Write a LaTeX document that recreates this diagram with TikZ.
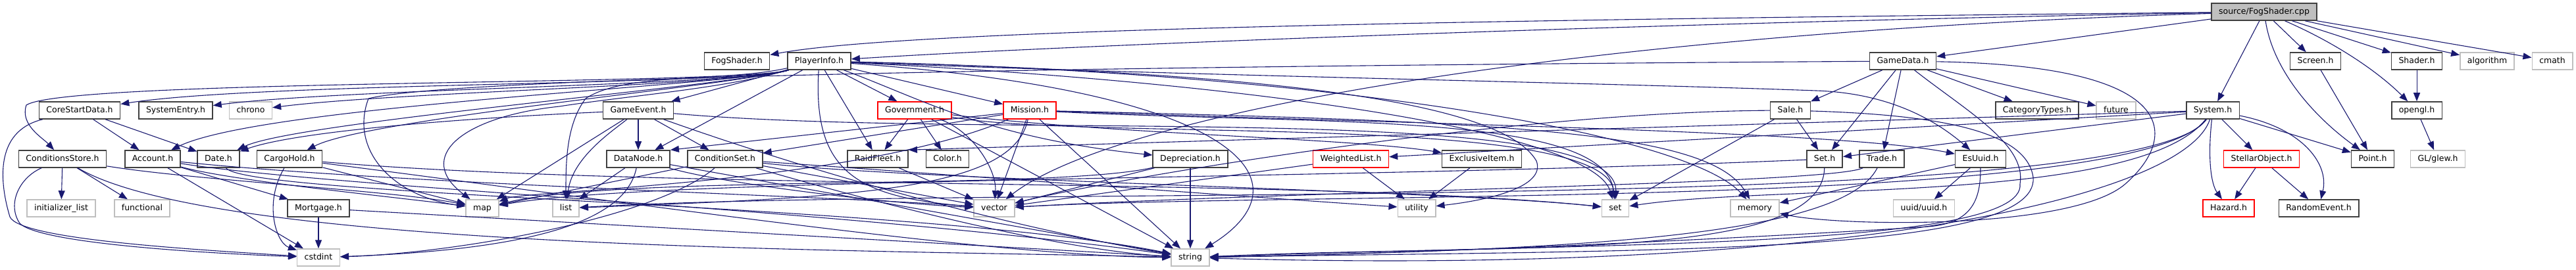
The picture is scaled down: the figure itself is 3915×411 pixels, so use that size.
\documentclass[tikz,border=0pt]{standalone}
\usepackage{fontspec}
\setmainfont{DejaVu Sans}
\usetikzlibrary{arrows.meta}
\definecolor{edgeblue}{HTML}{191970}
\definecolor{sysgray}{HTML}{BFBFBF}
\definecolor{rootedge}{HTML}{404040}

\begin{document}
\begin{tikzpicture}[x=1pt, y=-1pt,
    every node/.style={font=\fontsize{12.5}{15}\selectfont, fill=white, minimum height=26pt,
      inner xsep=11pt, inner ysep=0pt, text height=9.5pt, text depth=2.5pt, line width=1.5pt},
    hdr/.style={draw=rootedge},
    trunc/.style={draw=red},
    sys/.style={draw=sysgray},
    mainfile/.style={draw=rootedge, fill=sysgray},
    dep/.style={draw=edgeblue, line width=1.1pt, -{Triangle[length=13pt,width=10pt]}}]
    \useasboundingbox (0,0) rectangle (3915,411);
    % the file and the headers, row by row
    \node[mainfile] (sfog) at (3441,18) {source/FogShader.cpp};
    \node[hdr] (fogshaderh) at (1120,93) {FogShader.h};
    \node[hdr] (playerinfoh) at (1245,93) {PlayerInfo.h};
    \node[hdr] (gamedatah) at (2892,93) {GameData.h};
    \node[hdr] (screenh) at (3519,93) {Screen.h};
    \node[hdr] (shaderh) at (3673,93) {Shader.h};
    \node[sys] (algorithm) at (3780,93) {algorithm};
    \node[sys] (cmath) at (3879,93) {cmath};
    \node[hdr] (corestartdatah) at (121,168) {CoreStartData.h};
    \node[hdr] (systementryh) at (267,168) {SystemEntry.h};
    \node[sys] (chrono) at (381,168) {chrono};
    \node[hdr] (gameeventh) at (970,168) {GameEvent.h};
    \node[trunc] (governmenth) at (1390,168) {Government.h};
    \node[trunc] (missionh) at (1565,168) {Mission.h};
    \node[hdr] (saleh) at (2721,168) {Sale.h};
    \node[hdr] (categorytypesh) at (3096,168) {CategoryTypes.h};
    \node[sys] (future) at (3216,168) {future};
    \node[hdr] (systemh) at (3363,168) {System.h};
    \node[hdr] (openglh) at (3673,168) {opengl.h};
    \node[hdr] (conditionsstoreh) at (95,242) {ConditionsStore.h};
    \node[hdr] (accounth) at (232,242) {Account.h};
    \node[hdr] (dateh) at (332,242) {Date.h};
    \node[hdr] (cargoholdh) at (440,242) {CargoHold.h};
    \node[hdr] (datanodeh) at (970,242) {DataNode.h};
    \node[hdr] (conditionseth) at (1102,242) {ConditionSet.h};
    \node[hdr] (raidfleeth) at (1334,242) {RaidFleet.h};
    \node[hdr] (colorh) at (1440,242) {Color.h};
    \node[hdr] (depreciationh) at (1809,242) {Depreciation.h};
    \node[trunc] (weightedlisth) at (2053,242) {WeightedList.h};
    \node[hdr] (exclusiveitemh) at (2252,242) {ExclusiveItem.h};
    \node[hdr] (seth) at (2773,242) {Set.h};
    \node[hdr] (tradeh) at (2860,242) {Trade.h};
    \node[hdr] (esuuidh) at (3010,242) {EsUuid.h};
    \node[trunc] (stellarobjecth) at (3437,242) {StellarObject.h};
    \node[hdr] (pointh) at (3606,242) {Point.h};
    \node[sys] (glewh) at (3705,242) {GL/glew.h};
    \node[sys] (initializerlist) at (93,317) {initializer\_list};
    \node[sys] (functional) at (216,317) {functional};
    \node[hdr] (mortgageh) at (484,317) {Mortgage.h};
    \node[sys] (map) at (733,317) {map};
    \node[sys] (list) at (860,317) {list};
    \node[sys] (vector) at (1511,317) {vector};
    \node[sys] (utility) at (2153,317) {utility};
    \node[sys] (set) at (2455,317) {set};
    \node[sys] (memory) at (2667,317) {memory};
    \node[sys] (uuidh) at (2924,317) {uuid/uuid.h};
    \node[trunc] (hazardh) at (3387,317) {Hazard.h};
    \node[hdr] (randomeventh) at (3524,317) {RandomEvent.h};
    \node[sys] (cstdint) at (484,392) {cstdint};
    \node[sys] (string) at (1809,392) {string};

    % includes of the .cpp
    \draw[dep] (sfog) .. controls (2500,28) and (1400,40) .. (fogshaderh);
    \draw[dep] (sfog) .. controls (2500,35) and (1600,70) .. (playerinfoh);
    \draw[dep] (sfog) -- (gamedatah);
    \draw[dep] (sfog) .. controls (2400,50) and (1700,170) .. (vector);
    \draw[dep] (sfog) -- (systemh);
    \draw[dep] (sfog) .. controls (3455,110) and (3520,180) .. (pointh);
    \draw[dep] (sfog) -- (screenh);
    \draw[dep] (sfog) .. controls (3560,70) and (3620,115) .. (openglh);
    \draw[dep] (sfog) -- (shaderh);
    \draw[dep] (sfog) -- (algorithm);
    \draw[dep] (sfog) -- (cmath);

    % PlayerInfo.h
    \draw[dep] (playerinfoh) .. controls (1120,130) and (400,125) .. (corestartdatah);
    \draw[dep] (playerinfoh) .. controls (1120,130) and (520,135) .. (systementryh);
    \draw[dep] (playerinfoh) .. controls (1120,130) and (600,140) .. (chrono);
    \draw[dep] (playerinfoh) .. controls (1120,130) and (100,120) .. (40,160) .. controls (30,190) and (65,210) .. (conditionsstoreh);
    \draw[dep] (playerinfoh) .. controls (1120,130) and (400,160) .. (accounth);
    \draw[dep] (playerinfoh) .. controls (1120,130) and (450,185) .. (dateh);
    \draw[dep] (playerinfoh) .. controls (1120,130) and (560,180) .. (cargoholdh);
    \draw[dep] (playerinfoh) .. controls (1100,135) and (960,145) .. (850,162) .. controls (700,178) and (630,240) .. (map);
    \draw[dep] (playerinfoh) .. controls (1100,125) and (950,110) .. (890,150) .. controls (860,190) and (860,250) .. (list);
    \draw[dep] (playerinfoh) -- (gameeventh);
    \draw[dep] (playerinfoh) -- (datanodeh);
    \draw[dep] (playerinfoh) -- (governmenth);
    \draw[dep] (playerinfoh) -- (missionh);
    \draw[dep] (playerinfoh) -- (raidfleeth);
    \draw[dep] (playerinfoh) .. controls (1400,150) and (1500,210) .. (depreciationh);
    \draw[dep] (playerinfoh) .. controls (1800,115) and (2400,125) .. (2760,138) .. controls (2880,142) and (2950,190) .. (esuuidh);
    \draw[dep] (playerinfoh) .. controls (2000,110) and (2560,200) .. (memory);
    \draw[dep] (playerinfoh) .. controls (1900,125) and (2420,200) .. (set);
    \draw[dep] (playerinfoh) .. controls (1900,140) and (1990,280) .. (string);
    \draw[dep] (playerinfoh) .. controls (1900,110) and (2280,150) .. (2335,245) .. controls (2350,285) and (2260,305) .. (utility);
    \draw[dep] (playerinfoh) .. controls (1235,260) and (1300,300) .. (vector);

    % GameEvent.h, DataNode.h, ConditionSet.h
    \draw[dep] (gameeventh) .. controls (700,180) and (450,200) .. (dateh);
    \draw[dep] (gameeventh) -- (datanodeh);
    \draw[dep] (gameeventh) -- (conditionseth);
    \draw[dep] (gameeventh) -- (map);
    \draw[dep] (gameeventh) .. controls (930,200) and (870,240) .. (list);
    \draw[dep] (gameeventh) .. controls (1500,215) and (2460,150) .. (set);
    \draw[dep] (gameeventh) .. controls (1200,250) and (1500,340) .. (string);
    \draw[dep] (datanodeh) -- (list);
    \draw[dep] (datanodeh) .. controls (950,340) and (800,380) .. (cstdint);
    \draw[dep] (datanodeh) -- (string);
    \draw[dep] (datanodeh) .. controls (1100,280) and (1350,310) .. (vector);
    \draw[dep] (conditionseth) -- (map);
    \draw[dep] (conditionseth) .. controls (1000,330) and (700,385) .. (cstdint);
    \draw[dep] (conditionseth) .. controls (1400,275) and (2200,290) .. (set);
    \draw[dep] (conditionseth) .. controls (1300,300) and (1600,380) .. (string);
    \draw[dep] (conditionseth) -- (vector);
    \draw[dep] (conditionseth) .. controls (1500,270) and (1900,300) .. (utility);

    % Government.h, Mission.h
    \draw[dep] (governmenth) -- (raidfleeth);
    \draw[dep] (governmenth) -- (colorh);
    \draw[dep] (governmenth) .. controls (1480,200) and (1515,260) .. (vector);
    \draw[dep] (governmenth) .. controls (1700,205) and (2050,210) .. (exclusiveitemh);
    \draw[dep] (governmenth) .. controls (1650,215) and (2440,170) .. (set);
    \draw[dep] (governmenth) -- (string);
    \draw[dep] (missionh) -- (conditionseth);
    \draw[dep] (missionh) -- (datanodeh.north east);
    \draw[dep] (missionh) .. controls (2200,190) and (2800,200) .. (esuuidh);
    \draw[dep] (missionh) .. controls (1540,290) and (1300,300) .. (list);
    \draw[dep] (missionh) .. controls (1300,280) and (800,290) .. (map);
    \draw[dep] (missionh) .. controls (2000,190) and (2440,170) .. (set);
    \draw[dep] (missionh) .. controls (2300,185) and (2600,200) .. (memory);
    \draw[dep] (missionh) -- (string);
    \draw[dep] (missionh) -- (vector);
    \draw[dep] (raidfleeth) -- (vector);
    \draw[dep] (depreciationh) -- (string);
    \draw[dep] (depreciationh) -- (vector);
    \draw[dep] (depreciationh) .. controls (1600,290) and (950,265) .. (map);
    \draw[dep] (weightedlisth) -- (utility);
    \draw[dep] (weightedlisth) -- (vector);
    \draw[dep] (exclusiveitemh) -- (utility);

    % GameData.h and below
    \draw[dep] (gamedatah) -- (saleh);
    \draw[dep] (gamedatah) -- (seth);
    \draw[dep] (gamedatah) -- (tradeh);
    \draw[dep] (gamedatah) -- (categorytypesh);
    \draw[dep] (gamedatah) -- (future);
    \draw[dep] (gamedatah) .. controls (1800,100) and (700,115) .. (560,150) .. controls (530,230) and (600,300) .. (map);
    \draw[dep] (gamedatah) .. controls (2990,170) and (3080,220) .. (3070,280) .. controls (3080,380) and (2400,370) .. (string);
    \draw[dep] (gamedatah) .. controls (3320,100) and (3310,210) .. (3230,280) .. controls (3150,350) and (2800,345) .. (memory);
    \draw[dep] (saleh) -- (seth);
    \draw[dep] (saleh) -- (set);
    \draw[dep] (saleh) .. controls (2300,170) and (1700,270) .. (vector);
    \draw[dep] (saleh) .. controls (2950,175) and (3080,200) .. (3090,270) .. controls (3100,390) and (2500,380) .. (string);
    \draw[dep] (seth) .. controls (2770,400) and (2300,370) .. (string);
    \draw[dep] (seth) .. controls (2000,275) and (1000,270) .. (map);
    \draw[dep] (tradeh) .. controls (2800,360) and (2400,380) .. (string);
    \draw[dep] (tradeh) .. controls (2780,280) and (2000,290) .. (vector);
    \draw[dep] (esuuidh) -- (uuidh);
    \draw[dep] (esuuidh) -- (memory);
    \draw[dep] (esuuidh) .. controls (3010,300) and (3000,340) .. (2930,345) .. controls (2700,360) and (2200,385) .. (string);

    % System.h and the right side
    \draw[dep] (systemh) -- (seth);
    \draw[dep] (systemh) -- (weightedlisth);
    \draw[dep] (systemh) -- (raidfleeth.north east);
    \draw[dep] (systemh) .. controls (3250,330) and (1500,280) .. (list);
    \draw[dep] (systemh) .. controls (3250,310) and (2700,280) .. (set);
    \draw[dep] (systemh) .. controls (3250,320) and (2000,290) .. (vector);
    \draw[dep] (systemh) .. controls (3320,300) and (2800,420) .. (string);
    \draw[dep] (systemh) .. controls (3355,240) and (3360,280) .. (hazardh);
    \draw[dep] (systemh) -- (stellarobjecth);
    \draw[dep] (systemh) -- (pointh);
    \draw[dep] (systemh) .. controls (3500,195) and (3540,250) .. (randomeventh);
    \draw[dep] (stellarobjecth) -- (hazardh);
    \draw[dep] (stellarobjecth) -- (randomeventh);
    \draw[dep] (screenh) -- (pointh);
    \draw[dep] (shaderh) -- (openglh);
    \draw[dep] (openglh) -- (glewh);

    % left group
    \draw[dep] (corestartdatah) -- (accounth);
    \draw[dep] (corestartdatah) -- (dateh);
    \draw[dep] (corestartdatah) .. controls (-10,200) and (0,280) .. (15,330) .. controls (30,365) and (300,380) .. (cstdint);
    \draw[dep] (conditionsstoreh) -- (initializerlist);
    \draw[dep] (conditionsstoreh) -- (functional);
    \draw[dep] (conditionsstoreh) .. controls (30,270) and (10,310) .. (30,340) .. controls (60,370) and (300,385) .. (cstdint);
    \draw[dep] (conditionsstoreh) .. controls (300,275) and (600,290) .. (map);
    \draw[dep] (conditionsstoreh) .. controls (330,380) and (1300,380) .. (string);
    \draw[dep] (accounth) -- (mortgageh);
    \draw[dep] (accounth) -- (cstdint);
    \draw[dep] (accounth) .. controls (350,275) and (600,300) .. (map);
    \draw[dep] (accounth) .. controls (500,285) and (1300,320) .. (string);
    \draw[dep] (accounth) .. controls (600,280) and (1300,300) .. (vector);
    \draw[dep] (dateh) .. controls (380,300) and (1400,310) .. (string);
    \draw[dep] (cargoholdh) .. controls (400,310) and (420,370) .. (cstdint);
    \draw[dep] (cargoholdh) -- (map);
    \draw[dep] (cargoholdh) .. controls (1000,290) and (2000,270) .. (set);
    \draw[dep] (cargoholdh) .. controls (900,300) and (1500,390) .. (string);
    \draw[dep] (mortgageh) -- (cstdint);
    \draw[dep] (mortgageh) -- (string);
\end{tikzpicture}
\end{document}
